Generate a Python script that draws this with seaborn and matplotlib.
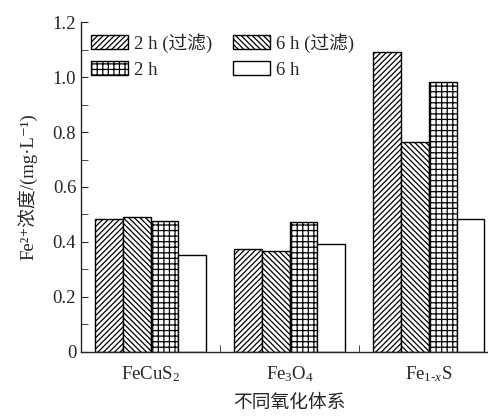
import matplotlib
matplotlib.use("Agg")
import matplotlib.pyplot as plt
import pandas as pd
import seaborn as sns

# datos
sistemas = ["FeCuS$_2$", "Fe$_3$O$_4$", r"Fe$_{1\text{-}x}$S"]
series = ["2 h (过滤)", "6 h (过滤)", "2 h", "6 h"]
v_2h_filtro = [0.484, 0.376, 1.090]
v_6h_filtro = [0.491, 0.368, 0.763]
v_2h = [0.475, 0.473, 0.983]
v_6h = [0.353, 0.394, 0.484]
hatches = ["//////", "\\\\\\\\\\\\", "+++", ""]

valores = [v_2h_filtro, v_6h_filtro, v_2h, v_6h]
df = pd.DataFrame({
    "sistema": [s for _ in series for s in sistemas],
    "serie": [n for n in series for _ in sistemas],
    "valor": [v for fila in valores for v in fila],
})

sns.set_style("ticks")
plt.rcParams["font.family"] = ["Liberation Serif", "Noto Sans CJK SC", "DejaVu Serif"]
plt.rcParams["mathtext.fontset"] = "custom"
plt.rcParams["mathtext.rm"] = "Liberation Serif"
plt.rcParams["mathtext.it"] = "Liberation Serif:italic"
plt.rcParams["hatch.linewidth"] = 0.9

fs = 13.5

fig = plt.figure(figsize=(4.88, 4.16), dpi=100)
ax = fig.add_axes([0.166, 0.154, 0.855, 0.793])

sns.barplot(data=df, x="sistema", y="valor", hue="serie", order=sistemas,
            hue_order=series, width=0.8, color="white", edgecolor="black",
            linewidth=1.0, saturation=1, legend=False, ax=ax)

for cont, h in zip(ax.containers, hatches):
    for bar in cont:
        bar.set_facecolor("white")
        bar.set_hatch(h)

ax.set_xlim(-0.5, 2.5)
ax.set_ylim(0, 1.2)
ax.set_yticks([0, 0.2, 0.4, 0.6, 0.8, 1.0, 1.2])
ax.set_yticklabels(["0", "0.2", "0.4", "0.6", "0.8", "1.0", "1.2"])
ax.set_yticks([0.1, 0.3, 0.5, 0.7, 0.9, 1.1], minor=True)
ax.set_xticks([0.5, 1.5], minor=True)
ax.tick_params(axis="both", which="both", direction="in", labelsize=fs)
ax.tick_params(axis="x", which="major", length=0, pad=9)
ax.tick_params(axis="y", which="major", length=5)
ax.tick_params(which="minor", length=5)
sns.despine(ax=ax)
for sp in ["left", "bottom"]:
    ax.spines[sp].set_linewidth(1.0)

ax.set_xlabel("不同氧化体系", fontsize=fs, labelpad=8)
ax.set_ylabel("Fe²⁺浓度/(mg·L⁻¹)", fontsize=fs, labelpad=10)

order = [0, 2, 1, 3]
ax.legend([ax.containers[i] for i in order], [series[i] for i in order],
          ncol=2, loc="upper left", bbox_to_anchor=(0.005, 0.99), frameon=False,
          fontsize=fs, handlelength=2.0, handleheight=0.8,
          handletextpad=0.3, columnspacing=1.1, labelspacing=0.45,
          borderaxespad=0.0)

fig.savefig("out.png", dpi=100)
